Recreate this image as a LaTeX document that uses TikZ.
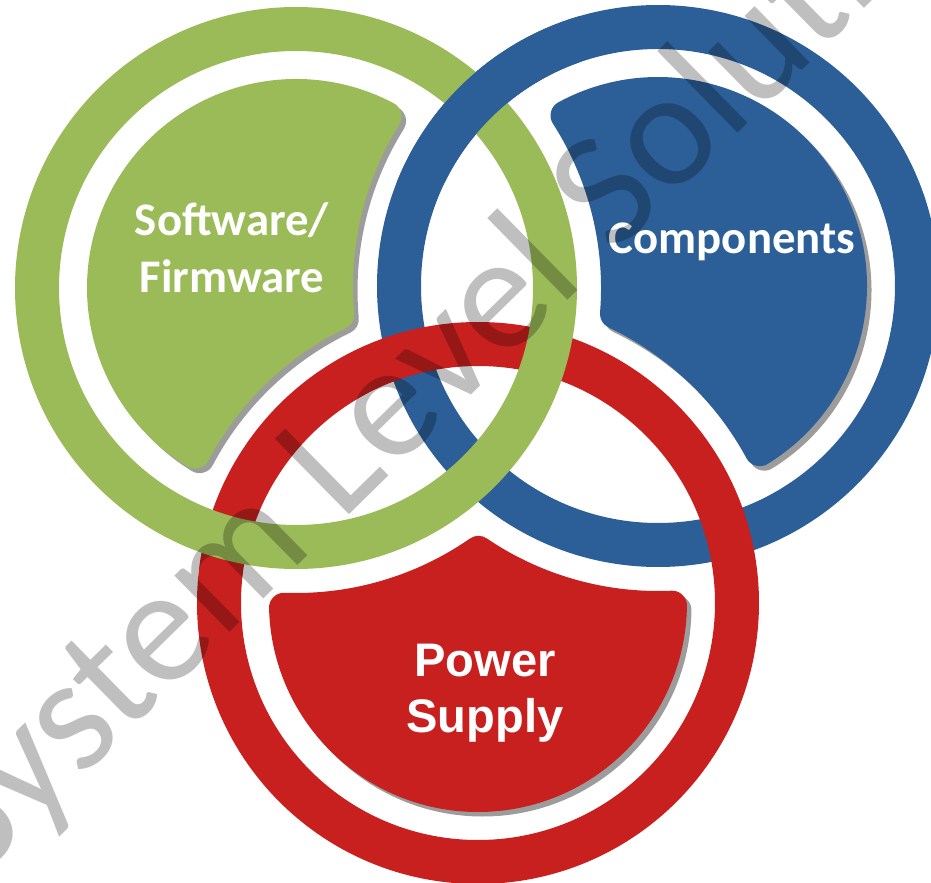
\documentclass[tikz,border=0pt]{standalone}
\usepackage{fontspec}
\newfontfamily\calfont{Carlito}
\newfontfamily\arfont{Liberation Sans}
\definecolor{ggreen}{HTML}{9BBB59}
\definecolor{gblue}{HTML}{2C5F98}
\definecolor{gred}{HTML}{C8201E}
\definecolor{gshadow}{HTML}{9C9C9C}
% circle-circle intersection: x1 y1 r1 x2 y2 r2 sign -> \ix \iy
\newcommand\cci[7]{%
  \pgfmathsetmacro\cdx{#4-#1}%
  \pgfmathsetmacro\cdy{#5-#2}%
  \pgfmathsetmacro\cdd{sqrt(\cdx*\cdx+\cdy*\cdy)}%
  \pgfmathsetmacro\caa{(#3*#3-#6*#6+\cdd*\cdd)/(2*\cdd)}%
  \pgfmathsetmacro\chh{sqrt(#3*#3-\caa*\caa)}%
  \pgfmathsetmacro\ix{#1+\caa*\cdx/\cdd-(#7)*\chh*\cdy/\cdd}%
  \pgfmathsetmacro\iy{#2+\caa*\cdy/\cdd+(#7)*\chh*\cdx/\cdd}%
}
% blob: centre C (#1,#2), first cut P (#3,#4), second cut Q (#5,#6), colour #7
\newcommand\blob[7]{%
  \cci{#1}{#2}{\Ra}{#5}{#6}{\Rb}{1}\let\bkAx\ix\let\bkAy\iy
  \cci{#1}{#2}{\Ra}{#3}{#4}{\Rb}{-1}\let\bkBx\ix\let\bkBy\iy
  \cci{#3}{#4}{\Rb}{#5}{#6}{\Rb}{1}\let\bkMx\ix\let\bkMy\iy
  \pgfmathsetmacro\bkSa{mod(atan2(\bkAy-#2,\bkAx-#1)+360,360)}%
  \pgfmathsetmacro\bkEa{mod(atan2(\bkBy-#2,\bkBx-#1)+360,360)}%
  \pgfmathsetmacro\bkEa{\bkSa+mod(\bkEa-\bkSa+360,360)}%
  \pgfmathsetmacro\bkSb{mod(atan2(\bkBy-#4,\bkBx-#3)+360,360)}%
  \pgfmathsetmacro\bkEb{mod(atan2(\bkMy-#4,\bkMx-#3)+360,360)}%
  \pgfmathsetmacro\bkEb{\bkSb-mod(\bkSb-\bkEb+360,360)}%
  \pgfmathsetmacro\bkSc{mod(atan2(\bkMy-#6,\bkMx-#5)+360,360)}%
  \pgfmathsetmacro\bkEc{mod(atan2(\bkAy-#6,\bkAx-#5)+360,360)}%
  \pgfmathsetmacro\bkEc{\bkSc-mod(\bkSc-\bkEc+360,360)}%
  \filldraw[blobline, gshadow, shift={(0.045,-0.045)}] (\bkAx,\bkAy)
    arc[start angle=\bkSa, end angle=\bkEa, radius=\Ra]
    arc[start angle=\bkSb, end angle=\bkEb, radius=\Rb]
    arc[start angle=\bkSc, end angle=\bkEc, radius=\Rb] -- cycle;
  \filldraw[blobline, #7] (\bkAx,\bkAy)
    arc[start angle=\bkSa, end angle=\bkEa, radius=\Ra]
    arc[start angle=\bkSb, end angle=\bkEb, radius=\Rb]
    arc[start angle=\bkSc, end angle=\bkEc, radius=\Rb] -- cycle;
}
\begin{document}
\begin{tikzpicture}[
  ring/.style={line width=0.44cm},
  blobline/.style={line width=0.30cm, line join=round},
  lab/.style={text=white, font=\calfont\bfseries\fontsize{13.3}{16.2}\selectfont, align=center, anchor=base, inner sep=0},
  labps/.style={text=white, font=\arfont\bfseries\fontsize{13.4}{15.9}\selectfont, align=center, anchor=base, inner sep=0},
  wm/.style={font=\calfont\fontsize{46.9}{50}\selectfont, text=black, text opacity=0.25, inner sep=0}
]
\useasboundingbox (0,0) rectangle (9.31,8.82);
\clip (0,0) rectangle (9.31,8.82);
\def\Gx{2.96}\def\Gy{5.94}
\def\Bx{6.58}\def\By{5.96}
\def\Rx{4.78}\def\Ry{2.79}
\def\Ra{1.94}
\def\Rb{3.20}
\coordinate (G) at (\Gx,\Gy);
\coordinate (B) at (\Bx,\By);
\coordinate (R) at (\Rx,\Ry);
% inner shapes
\blob{\Gx}{\Gy}{\Rx}{\Ry}{\Bx}{\By}{ggreen}
\blob{\Bx}{\By}{\Gx}{\Gy}{\Rx}{\Ry}{gblue}
\blob{\Rx}{\Ry}{\Bx}{\By}{\Gx}{\Gy}{gred}
% rings
\draw[ring, gblue] (B) circle[radius=2.59];
\draw[ring, gred] (R) circle[radius=2.59];
\draw[ring, ggreen] (G) circle[radius=2.59];
\begin{scope}
  \clip (3.8,7.0) rectangle (5.8,8.82);
  \draw[ring, gblue] (B) circle[radius=2.59];
\end{scope}
% labels
\node[lab] (sw) at (2.32,5.90) {Software/\\Firmware};
\node[lab] (cp) at (7.32,6.29) {Components};
\node[labps] (ps) at (4.85,1.50) {Power\\Supply};
% watermark
\coordinate (wm0) at (-0.25,-0.01);
\node[wm, rotate=44.5, anchor=base west] (wmk) at (wm0) {System Level Solutions};
\end{tikzpicture}
\end{document}
